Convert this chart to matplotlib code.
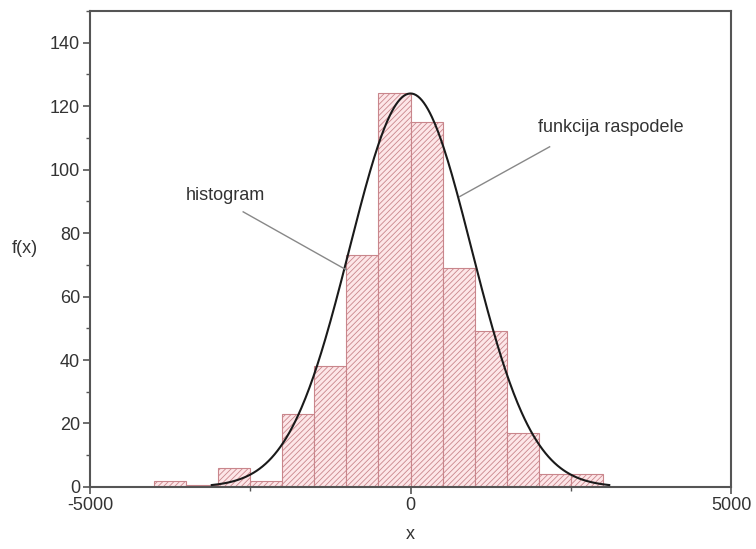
import numpy as np
import matplotlib.pyplot as plt
from matplotlib.ticker import MultipleLocator

plt.rcParams['font.family'] = ['Liberation Sans', 'DejaVu Sans']
plt.rcParams['axes.unicode_minus'] = False
plt.rcParams['hatch.color'] = '#e8a3a6'
plt.rcParams['hatch.linewidth'] = 0.6

# histogram bins (left edges) and counts
bin_left = [-4000, -3500, -3000, -2500, -2000, -1500, -1000, -500,
            0, 500, 1000, 1500, 2000, 2500]
counts = [2, 0.6, 6, 2, 23, 38, 73, 124, 115, 69, 49, 17, 4, 4]
bin_w = 500

# fitted normal curve parameters
peak = 124
mu = 0
sigma = 950
curve_range = (-3100, 3100)

fig = plt.figure(figsize=(7.56, 5.49), dpi=100)
ax = fig.add_axes([0.119, 0.113, 0.848, 0.867])

ax.bar(bin_left, counts, width=bin_w, align='edge', color='#fde6e8',
       edgecolor='#c9868c', linewidth=0.8, hatch='//////', zorder=1)

xs = np.linspace(curve_range[0], curve_range[1], 400)
ys = peak * np.exp(-(xs - mu) ** 2 / (2 * sigma ** 2))
ax.plot(xs, ys, color='#1a1a1a', lw=1.5, zorder=3)

ax.set_xlim(-5000, 5000)
ax.set_ylim(0, 150)
ax.set_xticks([-5000, 0, 5000])
ax.xaxis.set_minor_locator(MultipleLocator(2500))
ax.set_yticks(np.arange(0, 141, 20))
ax.yaxis.set_minor_locator(MultipleLocator(10))

ax.tick_params(which='major', direction='out', length=5, width=1.2,
               colors='#555555', labelcolor='#333333', labelsize=13, pad=2)
ax.tick_params(which='minor', direction='out', length=3, width=1,
               colors='#555555')
for sp in ax.spines.values():
    sp.set_color('#555555')
    sp.set_linewidth(1.5)

ax.set_xlabel('x', fontsize=13, color='#333333', labelpad=9)
ax.set_ylabel('f(x)', fontsize=13, color='#333333', rotation=0,
              labelpad=18, va='center')

# labels with leader lines
ax.plot([-2610, -1000], [86.7, 68.4], color='#888888', lw=1, zorder=4)
ax.text(-2880, 92, 'histogram', fontsize=13, color='#333333',
        ha='center', va='center')
ax.plot([2170, 766], [107.2, 91.5], color='#888888', lw=1, zorder=4)
ax.text(3120, 113.2, 'funkcija raspodele', fontsize=13, color='#333333',
        ha='center', va='center')

fig.savefig('out.png', dpi=100)
